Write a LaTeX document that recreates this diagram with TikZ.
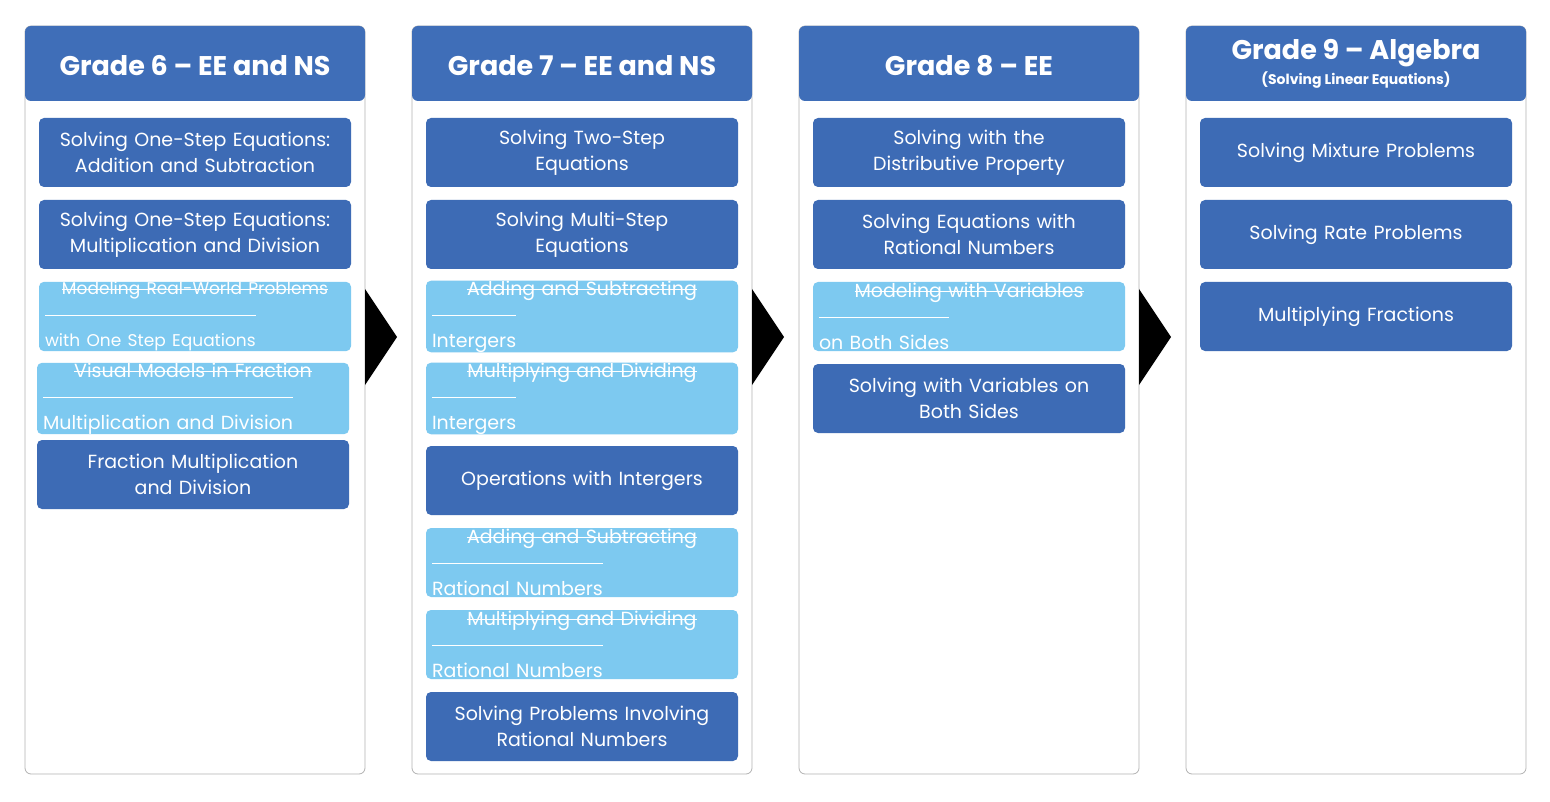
\documentclass[tikz,border=0pt]{standalone}
\usepackage{fontspec}
\setmainfont{Poppins}
\newfontfamily\bodyf{Poppins}
\newcommand\strk[1]{\setbox0\hbox{#1}\rlap{\raisebox{0.3em}{\rule{\wd0}{0.9pt}}}\box0}
\begin{document}
\begin{tikzpicture}[x=1pt,y=-1pt,
  colbox/.style={draw=black!30,line width=0.8pt,rounded corners=6pt,fill=white},
  item/.style={fill=itemblue,rounded corners=5pt,minimum width=312pt,minimum height=69pt,text width=300pt,align=center,text=white,font=\fontsize{19}{26}\selectfont\bodyf,inner sep=0pt},
  litem/.style={item,fill=lightblue},
  hd/.style={text=white,font=\fontsize{27}{30}\selectfont\bfseries},
  tri/.style={fill=black}]
\definecolor{hdrblue}{HTML}{3F6EB8}
\definecolor{itemblue}{HTML}{3D6BB5}
\definecolor{lightblue}{HTML}{7DC9F0}
\useasboundingbox (0,0) rectangle (1550,802);
\foreach \x in {25,412,799,1186}{
  \draw[colbox] (\x,26) rectangle ++(340,748);
  \fill[hdrblue,rounded corners=6pt] (\x,101) -- (\x,26) -- ++(340,0) -- ++(0,75) -- cycle;
}
\node[hd] (h1) at (195,66) {Grade 6 -- EE and NS};
\node[hd] (h2) at (582,66) {Grade 7 -- EE and NS};
\node[hd] (h3) at (969,66) {Grade 8 -- EE};
\node[hd] (h4) at (1356,53) {Grade 9 -- Algebra};
\node[text=white,font=\fontsize{14}{16}\selectfont\bfseries] (h4s) at (1356,80) {(Solving Linear Equations)};
% column 1
\node[item] (a1) at (195,152.5) {Solving One-Step Equations:\\Addition and Subtraction};
\node[item] (a2) at (195,234.5) {Solving One-Step Equations:\\Multiplication and Division};
\node[litem] (a3) at (195,316.5) {\fontsize{17}{26}\selectfont\strk{Modeling Real-World Problems}\\\strk{with One Step Equations}};
\node[litem] (a4) at (193,398.5) {\strk{Visual Models in Fraction}\\\strk{Multiplication and Division}};
\node[item] (a5) at (193,474.5) {Fraction Multiplication\\and Division};
% column 2
\node[item] (b1) at (582,152.5) {Solving Two-Step\\Equations};
\node[item] (b2) at (582,234.5) {Solving Multi-Step\\Equations};
\node[litem] (b3) at (582,316.5) {\strk{Adding and Subtracting}\\\strk{Intergers}};
\node[litem] (b4) at (582,398.5) {\strk{Multiplying and Dividing}\\\strk{Intergers}};
\node[item] (b5) at (582,480.5) {Operations with Intergers};
\node[litem] (b6) at (582,562.5) {\strk{Adding and Subtracting}\\\strk{Rational Numbers}};
\node[litem] (b7) at (582,644.5) {\strk{Multiplying and Dividing}\\\strk{Rational Numbers}};
\node[item] (b8) at (582,726.5) {Solving Problems Involving\\Rational Numbers};
% column 3
\node[item] (c1) at (969,152.5) {Solving with the\\Distributive Property};
\node[item] (c2) at (969,234.5) {Solving Equations with\\Rational Numbers};
\node[litem] (c3) at (969,316.5) {\strk{Modeling with Variables}\\\strk{on Both Sides}};
\node[item] (c4) at (969,398.5) {Solving with Variables on\\Both Sides};
% column 4
\node[item] (d1) at (1356,152.5) {Solving Mixture Problems};
\node[item] (d2) at (1356,234.5) {Solving Rate Problems};
\node[item] (d3) at (1356,316.5) {Multiplying Fractions};
% arrows
\foreach \x in {365,752,1139}{
  \fill[tri] (\x,289) -- (\x+32,337) -- (\x,385) -- cycle;
}
\end{tikzpicture}
\end{document}
